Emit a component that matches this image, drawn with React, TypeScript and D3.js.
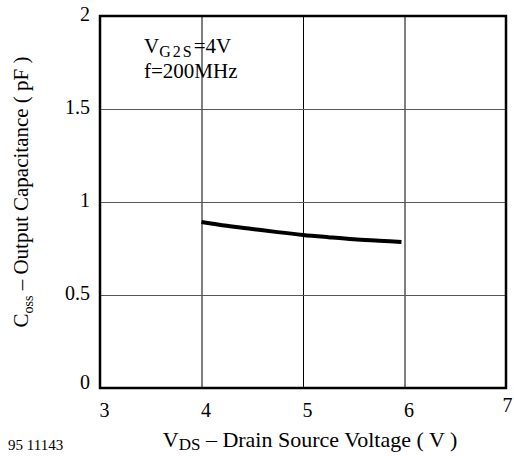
import React, {useEffect, useRef} from "react";
import * as d3 from "d3";

// C_oss vs V_DS
const vds = [4.0, 4.25, 4.5, 4.75, 5.0, 5.25, 5.5, 5.75, 5.97];
const coss = [0.893, 0.872, 0.855, 0.838, 0.823, 0.811, 0.800, 0.792, 0.785];

const xTicks = [3, 4, 5, 6, 7];
const yTicks = [0, 0.5, 1, 1.5, 2];
const yTickLabels = ["0", "0.5", "1", "1.5", "2"];

const W = 514, H = 456;
const margin = {left: 100, top: 16, right: 8, bottom: 68};
const FONT = "'Liberation Serif', 'DejaVu Serif', serif";

export default function App() {
    const ref = useRef<SVGSVGElement>(null);

    useEffect(() => {
        const svg = d3.select(ref.current);
        svg.selectAll("*").remove();

        const x = d3.scaleLinear().domain([3, 7]).range([margin.left, W - margin.right]);
        const y = d3.scaleLinear().domain([0, 2]).range([H - margin.bottom, margin.top]);

        const g = svg.append("g").style("font-family", FONT);

        // grid
        g.append("g")
            .attr("transform", `translate(0,${margin.top})`)
            .call(d3.axisBottom(x).tickValues(xTicks.slice(1, -1)).tickSize(y(0) - margin.top).tickFormat(() => ""))
            .call(s => s.select(".domain").remove())
            .call(s => s.selectAll("line").attr("stroke", "#000").attr("stroke-width", 1));
        g.append("g")
            .attr("transform", `translate(${margin.left},0)`)
            .call(d3.axisRight(y).tickValues(yTicks.slice(1, -1)).tickSize(x(7) - margin.left).tickFormat(() => ""))
            .call(s => s.select(".domain").remove())
            .call(s => s.selectAll("line").attr("stroke", "#555").attr("stroke-width", 1));

        // frame
        g.append("rect")
            .attr("x", x(3)).attr("y", y(2))
            .attr("width", x(7) - x(3)).attr("height", y(0) - y(2))
            .attr("fill", "none").attr("stroke", "#000").attr("stroke-width", 2.5);

        // x tick labels
        g.append("g")
            .attr("transform", `translate(0,${y(0)})`)
            .call(d3.axisBottom(x).tickValues(xTicks).tickSize(0).tickPadding(0).tickFormat(d3.format("d")))
            .call(s => s.select(".domain").remove())
            .call(s => s.selectAll("text")
                .style("font-family", FONT).attr("font-size", 20).attr("fill", "#000")
                .attr("dy", null).attr("y", (d: any) => d === 7 ? 24 : 29)
                .attr("x", (d: any) => d === 7 ? 1 : 4));

        // y tick labels
        g.append("g")
            .attr("transform", `translate(${margin.left},0)`)
            .call(d3.axisLeft(y).tickValues(yTicks).tickSize(0).tickPadding(10)
                .tickFormat((d, i) => yTickLabels[i]))
            .call(s => s.select(".domain").remove())
            .call(s => s.selectAll("text")
                .style("font-family", FONT).attr("font-size", 20).attr("fill", "#000")
                .attr("dy", (d: any) => d === 0 ? 0 : 4));

        // curve
        const line = d3.line<number>()
            .x((d, i) => x(vds[i]))
            .y(d => y(d))
            .curve(d3.curveMonotoneX);
        g.append("path")
            .attr("d", line(coss))
            .attr("fill", "none")
            .attr("stroke", "#000")
            .attr("stroke-width", 4)
            .attr("stroke-linecap", "butt");

        // annotation
        const ann = g.append("text").attr("x", 144).attr("y", 53).attr("font-size", 21);
        ann.append("tspan").text("V");
        ann.append("tspan").attr("font-size", 16).attr("dy", 4).attr("letter-spacing", 2).text("G2S");
        ann.append("tspan").attr("dy", -4).text("=4V");
        g.append("text").attr("x", 144).attr("y", 78).attr("font-size", 21).text("f=200MHz");

        // x title
        const xt = g.append("text").attr("x", 310).attr("y", 447)
            .attr("text-anchor", "middle").attr("font-size", 22);
        xt.append("tspan").text("V");
        xt.append("tspan").attr("font-size", 17).attr("dy", 3).text("DS");
        xt.append("tspan").attr("dy", -3).text(" \u2013 Drain Source Voltage ( V )");

        // y title
        const yt = g.append("text")
            .attr("transform", "translate(28,192) rotate(-90)")
            .attr("text-anchor", "middle").attr("font-size", 21);
        yt.append("tspan").text("C");
        yt.append("tspan").attr("font-size", 14).attr("dy", 5).text("oss");
        yt.append("tspan").attr("dy", -5).text("  \u2013 Output Capacitance ( pF )");

        // figure number
        g.append("text").attr("x", 8).attr("y", 450).attr("font-size", 15).text("95 11143");
    }, []);

    return (
        <div style={{position: "absolute", left: 0, top: 0, width: W, height: H, background: "#fff"}}>
            <svg ref={ref} width={W} height={H} style={{display: "block"}}/>
        </div>
    );
}
